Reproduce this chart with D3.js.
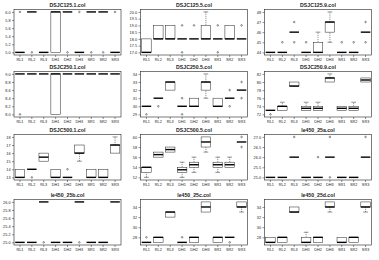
<!DOCTYPE html>
<html>
<head>
<meta charset="utf-8">
<script src="https://cdn.jsdelivr.net/npm/d3@7"></script>
<style>
  body { margin: 0; background: #fff; }
  text { font-family: "Liberation Sans", Arial, sans-serif; }
</style>
</head>
<body>
<svg id="chart"></svg>
<script>
// methods on the x axis of every panel
const methods = ['RL1', 'RL2', 'RL3', 'DH1', 'DH2', 'DH3', 'SR1', 'SR2', 'SR3'];

const titles = ['DSJC125.1.col', 'DSJC125.5.col', 'DSJC125.9.col',
                'DSJC250.1.col', 'DSJC250.5.col', 'DSJC250.9.col',
                'DSJC500.1.col', 'DSJC500.5.col', 'le450_25a.col',
                'le450_25b.col', 'le450_25c.col', 'le450_25d.col'];

// tick values per panel
const ticks = [
  [5.0, 5.2, 5.4, 5.6, 5.8, 6.0],
  [17.0, 17.5, 18.0, 18.5, 19.0, 19.5, 20.0],
  [44, 45, 46, 47, 48],
  [8.0, 8.2, 8.4, 8.6, 8.8, 9.0],
  [29, 30, 31, 32, 33, 34],
  [72, 74, 76, 78, 80, 82],
  [13, 14, 15, 16, 17, 18],
  [52, 54, 56, 58, 60],
  [25.0, 25.5, 26.0, 26.5, 27.0],
  [25.0, 25.2, 25.4, 25.6, 25.8, 26.0],
  [28, 30, 32, 34],
  [28, 30, 32, 34]
];
const tickDigits = [1, 1, 0, 1, 0, 0, 0, 0, 1, 1, 0, 0];

// box stats per method: [lower whisker, q1, median, q3, upper whisker, outliers]
const dsjc125_1 = [[5,5,5,5,5,[6]], [6,6,6,6,6,[5]], [5,5,5,5,5,[]], [5,5,6,6,6,[]], [6,6,6,6,6,[5]],
                   [5,5,5,5,5,[6]], [6,6,6,6,6,[5]], [6,6,6,6,6,[5]], [5,5,5,5,5,[6]]];
const dsjc125_5 = [[17,17,17,18,18,[]], [18,18,18,19,19,[]], [18,18,18,19,19,[]], [18,18,18,18,18,[19,17]], [18,18,18,18,18,[19]],
                   [18,18,18,19,20,[]], [18,18,18,18,18,[19,17]], [18,18,18,19,19,[]], [18,18,18,18,18,[19]]];
const dsjc125_9 = [[44,44,44,44,44,[]], [44,44,44,44,44,[45]], [46,46,46,46,46,[47,45]], [44,44,44,44,44,[45]], [44,44,44,45,46,[]],
                   [45,46,47,47,48,[]], [44,44,44,44,44,[45]], [44,44,44,44,44,[45]], [46,46,46,46,46,[47,45]]];
const dsjc250_1 = [[9,9,9,9,9,[8]], [9,9,9,9,9,[]], [9,9,9,9,9,[]], [8,8,9,9,9,[]], [9,9,9,9,9,[]],
                   [9,9,9,9,9,[]], [9,9,9,9,9,[]], [9,9,9,9,9,[]], [9,9,9,9,9,[]]];
const dsjc250_5 = [[30,30,30,30,30,[29]], [31,31,31,31,31,[30]], [32,32,33,33,33,[]], [30,30,30,30,30,[31,29]], [30,30,30,31,31,[]],
                   [31,32,33,33,34,[]], [30,30,30,31,31,[]], [31,31,31,31,31,[32,30]], [32,32,32,32,32,[33,31]]];
const dsjc250_9 = [[73,73,73,73,73,[72]], [73,73,74,74,75,[]], [79,79,79,80,80,[]], [73,73,73.5,74,75,[]], [73,73,73.5,74,75,[]],
                   [80,80,81,81,82,[]], [73,73,73.5,74,74,[]], [73,73,73.5,74,75,[]], [80,80,80.5,81,81,[]]];
const dsjc500_1 = [[13,13,13,14,14,[]], [14,14,14,14,14,[13]], [15,15,15.5,16,16,[]], [13,13,13,14,14,[]], [13,13,13,13,13,[14]],
                   [15,16,16,17,17,[]], [13,13,13,14,14,[]], [13,13,13,14,14,[]], [16,16,17,17,18,[]]];
const dsjc500_5 = [[52,53,54,54,54,[]], [56,56,56.5,57,57,[]], [57,57,57.5,58,58,[]], [52,53,53.5,54,55,[]], [53,54,54.5,55,56,[]],
                   [57,58,59,60,60,[]], [53,54,54.5,55,56,[]], [54,54,54.5,55,56,[]], [59,59,59,59,59,[60,58]]];
const le450_25a = [[25,25,25,25,25,[]], [25,25,25,25,25,[]], [26,26,26,26,26,[27]], [25,25,25,25,25,[]], [25,25,25,25,25,[26]],
                   [26,26,26,26,26,[27,25]], [25,25,25,25,25,[]], [25,25,25,25,25,[]], [26,26,26,26,26,[27]]];
const le450_25b = [[25,25,25,25,25,[]], [25,25,25,25,25,[]], [26,26,26,26,26,[25]], [25,25,25,25,25,[]], [25,25,25,25,25,[]],
                   [26,26,26,26,26,[25]], [25,25,25,25,25,[]], [25,25,25,25,25,[]], [26,26,26,26,26,[]]];
const le450_25c = [[27,27,27,27,27,[28]], [27,27,28,28,28,[]], [32,32,33,33,33,[]], [27,27,27,27,27,[28]], [27,27,28,28,28,[]],
                   [33,33,34,35,35,[]], [27,27,28,28,28,[]], [28,28,28,28,28,[27]], [33,34,34,35,35,[]]];
const le450_25d = [[27,27,27,28,28,[]], [27,27,28,28,28,[]], [33,33,33,34,34,[]], [27,27,27,28,29,[]], [27,27,28,28,28,[]],
                   [33,34,34,35,35,[]], [27,27,27,28,28,[]], [27,27,28,28,28,[]], [33,34,34,35,35,[]]];

const panels = [dsjc125_1, dsjc125_5, dsjc125_9, dsjc250_1, dsjc250_5, dsjc250_9,
                dsjc500_1, dsjc500_5, le450_25a, le450_25b, le450_25c, le450_25d];

const width = 379, height = 260;
const colLeft = [14, 140.5, 264.5];
const rowTop = [9.3, 71.3, 134.3, 199.3];
const pw = 107, ph = 45.7;
const ink = '#222';

const svg = d3.select('#chart').attr('width', width).attr('height', height);

panels.forEach((stats, i) => {
  const px = colLeft[i % 3], py = rowTop[Math.floor(i / 3)];
  const g = svg.append('g').attr('transform', `translate(${px},${py})`);

  // data range, padded like R does
  const all = stats.flatMap(s => [s[0], s[4], ...s[5]]);
  const lo = d3.min(all), hi = d3.max(all);
  const pad = (hi - lo) * 0.065;

  const x = d3.scaleBand().domain(methods).range([0, pw]).paddingInner(0).paddingOuter(0);
  const y = d3.scaleLinear().domain([lo - pad, hi + pad]).range([ph, 0]);
  const bw = x.bandwidth() * 0.8;

  // title
  g.append('text')
    .attr('x', pw / 2).attr('y', -2.6)
    .attr('text-anchor', 'middle')
    .style('font-size', '5.2px').style('font-weight', 'bold')
    .attr('fill', ink)
    .text(titles[i]);

  // axes
  const yAxis = d3.axisLeft(y).tickValues(ticks[i]).tickSize(2).tickPadding(1.5)
    .tickFormat(d3.format(`.${tickDigits[i]}f`));
  const yG = g.append('g').call(yAxis);
  const xAxis = d3.axisBottom(x).tickSize(2).tickPadding(1.8);
  const xG = g.append('g').attr('transform', `translate(0,${ph})`).call(xAxis);
  [yG, xG].forEach(a => {
    a.select('.domain').remove();
    a.selectAll('.tick line').attr('stroke', ink).attr('stroke-width', 0.5);
    a.selectAll('text').style('font-size', '3.8px').attr('fill', ink)
      .style('font-family', '"Liberation Sans", Arial, sans-serif');
  });

  const boxes = g.selectAll('.box').data(stats).join('g')
    .attr('class', 'box')
    .attr('transform', (d, j) => `translate(${x(methods[j]) + x.bandwidth() / 2},0)`);

  // whiskers (dashed) and staples
  boxes.each(function(d) {
    const b = d3.select(this);
    if (d[0] < d[1]) {
      b.append('line').attr('x1', 0).attr('x2', 0).attr('y1', y(d[0])).attr('y2', y(d[1]))
        .attr('stroke', ink).attr('stroke-width', 0.5).attr('stroke-dasharray', '1.2,0.9');
      b.append('line').attr('x1', -bw / 4).attr('x2', bw / 4).attr('y1', y(d[0])).attr('y2', y(d[0]))
        .attr('stroke', ink).attr('stroke-width', 0.5);
    }
    if (d[4] > d[3]) {
      b.append('line').attr('x1', 0).attr('x2', 0).attr('y1', y(d[3])).attr('y2', y(d[4]))
        .attr('stroke', ink).attr('stroke-width', 0.5).attr('stroke-dasharray', '1.2,0.9');
      b.append('line').attr('x1', -bw / 4).attr('x2', bw / 4).attr('y1', y(d[4])).attr('y2', y(d[4]))
        .attr('stroke', ink).attr('stroke-width', 0.5);
    }
  });

  boxes.append('rect')
    .attr('x', -bw / 2).attr('width', bw)
    .attr('y', d => y(d[3])).attr('height', d => y(d[1]) - y(d[3]))
    .attr('fill', '#fff').attr('stroke', ink).attr('stroke-width', 0.5);

  boxes.append('line')
    .attr('x1', -bw / 2).attr('x2', bw / 2)
    .attr('y1', d => y(d[2])).attr('y2', d => y(d[2]))
    .attr('stroke', '#000').attr('stroke-width', 1.4);

  boxes.selectAll('circle').data(d => d[5]).join('circle')
    .attr('cx', 0).attr('cy', v => y(v)).attr('r', 0.8)
    .attr('fill', 'none').attr('stroke', ink).attr('stroke-width', 0.5);

  // frame
  g.append('rect').attr('width', pw).attr('height', ph)
    .attr('fill', 'none').attr('stroke', ink).attr('stroke-width', 0.6);
});
</script>
</body>
</html>
